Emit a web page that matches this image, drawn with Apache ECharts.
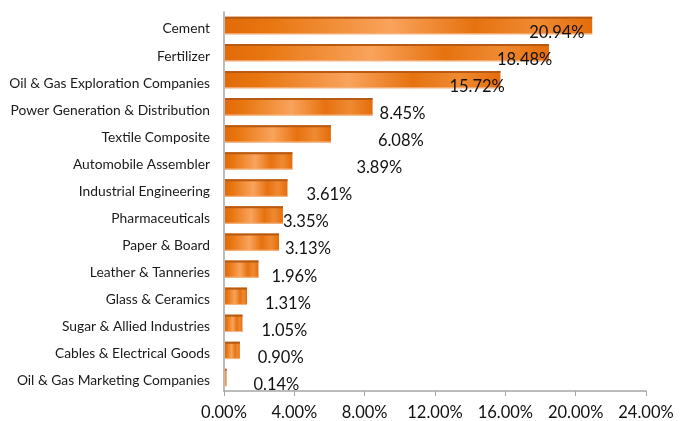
<!DOCTYPE html>
<html>
<head>
<meta charset="utf-8">
<script src="https://cdn.jsdelivr.net/npm/echarts@6/dist/echarts.min.js"></script>
<style>html,body{margin:0;padding:0;background:#fff}#c{width:688px;height:421px}</style>
</head>
<body>
<div id="c"></div>
<script>
const categories = ["Cement","Fertilizer","Oil & Gas Exploration Companies","Power Generation & Distribution","Textile Composite","Automobile Assembler","Industrial Engineering","Pharmaceuticals","Paper & Board","Leather & Tanneries","Glass & Ceramics","Sugar & Allied Industries","Cables & Electrical Goods","Oil & Gas Marketing Companies"];
const values = [20.94,18.48,15.72,8.45,6.08,3.89,3.61,3.35,3.13,1.96,1.31,1.05,0.90,0.14];
const xTicks = {min:0, max:24, interval:4};
// label horizontal offsets from bar end (layout only)
const labelDx = [-63,-52,-51,7,47,64,19,0,6,13,18,19,18,27];

const FONT = 'Lato, "Open Sans", sans-serif';
const chart = echarts.init(document.getElementById('c'), null, {renderer:'canvas'});
const data = values.map((v,i)=>[v,i]);
chart.setOption({
  animation:false,
  grid:{left:224, right:42, top:12, bottom:30, containLabel:false},
  xAxis:{type:'value', min:xTicks.min, max:xTicks.max, interval:xTicks.interval,
    axisLine:{show:true, lineStyle:{color:'#A6A6A6', width:1.5}},
    axisTick:{show:true, length:5, lineStyle:{color:'#A6A6A6'}},
    splitLine:{show:false},
    axisLabel:{formatter:v=>v.toFixed(2)+'%', color:'#111', fontSize:16.5, fontFamily:FONT, margin:13}},
  yAxis:{type:'category', data:categories, inverse:true,
    axisLine:{show:true, lineStyle:{color:'#A6A6A6', width:1.5}},
    axisTick:{show:false},
    axisLabel:{margin:14, formatter:v=>'{a|'+v+'}',
      rich:{a:{color:'#1a1a1a', fontSize:13.8, fontFamily:FONT, padding:[7,0,0,0]}}}},
  series:[{
    type:'custom',
    data:data,
    encode:{x:0, y:1},
    renderItem:function(params, api){
      const v = api.value(0), idx = api.value(1);
      const s = api.coord([0, idx]), e = api.coord([v, idx]);
      const band = api.size([0,1])[1];
      const h = band*0.64;
      const x = s[0]+1, y = s[1]-h/2, w = Math.max(e[0]-s[0]-1, 1.5);
      const grad = new echarts.graphic.LinearGradient(0,0,1,0,[
        {offset:0, color:'#E26A0A'},
        {offset:0.12, color:'#E8760F'},
        {offset:0.45, color:'#F9A35C'},
        {offset:0.68, color:'#E6720F'},
        {offset:0.85, color:'#EF8A32'},
        {offset:1, color:'#E46C0A'}]);
      return {type:'group', children:[
        {type:'rect', shape:{x:x, y:y, width:w, height:h}, style:{fill:grad}},
        {type:'rect', shape:{x:x, y:y, width:w, height:2}, style:{fill:'#B65A14'}},
        {type:'rect', shape:{x:x, y:y+h-1, width:w, height:1}, style:{fill:'#F5B787'}},
        {type:'text', style:{text:values[idx].toFixed(2)+'%', x:e[0]+labelDx[idx], y:s[1]+7,
          verticalAlign:'middle', align:'left', fill:'#111', fontSize:16.5, fontFamily:FONT}}
      ]};
    }
  }]
});
</script>
</body>
</html>
